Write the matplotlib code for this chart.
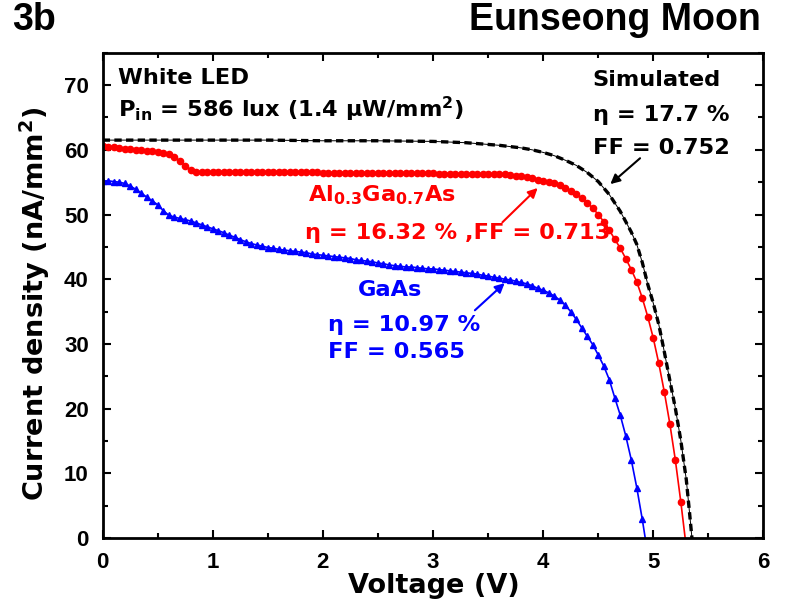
import numpy as np
import matplotlib
matplotlib.use('Agg')
import matplotlib.pyplot as plt
from matplotlib.ticker import MultipleLocator

plt.rcParams['font.family'] = ['DejaVu Sans']
plt.rcParams['font.weight'] = 'bold'
plt.rcParams['mathtext.fontset'] = 'dejavusans'
plt.rcParams['mathtext.default'] = 'bf'

# J-V data, current density in nA/mm^2, voltage step 0.05 V for measured cells
step = 0.05

j_algaas = [
    60.6, 60.5, 60.4, 60.3, 60.2, 60.1, 60.0, 59.9, 59.8, 59.8,
    59.7, 59.5, 59.3, 58.9, 58.3, 57.5, 56.9, 56.6, 56.5, 56.5,
    56.5, 56.5, 56.5, 56.5, 56.5, 56.5, 56.5, 56.5, 56.5, 56.5,
    56.5, 56.5, 56.5, 56.5, 56.5, 56.5, 56.5, 56.5, 56.5, 56.5,
    56.4, 56.4, 56.4, 56.4, 56.4, 56.4, 56.4, 56.4, 56.4, 56.4,
    56.4, 56.4, 56.4, 56.4, 56.4, 56.4, 56.4, 56.4, 56.4, 56.4,
    56.4, 56.3, 56.3, 56.3, 56.3, 56.3, 56.3, 56.3, 56.3, 56.3,
    56.3, 56.3, 56.3, 56.2, 56.1, 56.0, 55.9, 55.8, 55.6, 55.4,
    55.2, 55.0, 54.8, 54.5, 54.1, 53.7, 53.1, 52.5, 51.8, 51.0,
    50.0, 48.9, 47.6, 46.2, 44.8, 43.2, 41.5, 39.6, 37.1, 34.2,
    30.9, 27.0, 22.6, 17.7, 12.1, 5.6, -1.5,
]

j_gaas = [
    55.2, 55.2, 55.1, 55.0, 54.8, 54.4, 53.9, 53.3, 52.7, 52.1,
    51.5, 50.6, 49.9, 49.6, 49.4, 49.2, 49.0, 48.7, 48.4, 48.1,
    47.8, 47.5, 47.2, 46.8, 46.5, 46.1, 45.8, 45.5, 45.3, 45.1,
    44.9, 44.8, 44.6, 44.5, 44.4, 44.3, 44.2, 44.1, 43.9, 43.8,
    43.7, 43.6, 43.5, 43.4, 43.3, 43.2, 43.0, 42.9, 42.8, 42.7,
    42.5, 42.4, 42.2, 42.1, 42.0, 41.9, 41.9, 41.8, 41.7, 41.6,
    41.6, 41.5, 41.4, 41.3, 41.2, 41.1, 41.0, 40.9, 40.8, 40.6,
    40.5, 40.3, 40.2, 40.0, 39.9, 39.7, 39.5, 39.3, 39.0, 38.6,
    38.3, 37.9, 37.4, 36.8, 36.0, 35.0, 33.8, 32.5, 31.2, 29.9,
    28.3, 26.6, 24.5, 21.7, 19.0, 15.8, 12.1, 7.8, 2.9, -2.5,
]

v_sim = [0.0, 0.5, 1.0, 1.5, 2.0, 2.5, 3.0, 3.3, 3.6, 3.8, 3.9, 4.0, 4.1,
         4.2, 4.3, 4.4, 4.5, 4.6, 4.7, 4.8, 4.85, 4.9, 4.95, 5.0, 5.05,
         5.1, 5.15, 5.2, 5.25, 5.3, 5.33, 5.35, 5.37]
j_sim = [61.5, 61.5, 61.5, 61.5, 61.4, 61.4, 61.3, 61.1, 60.7, 60.3, 60.0,
         59.6, 59.1, 58.4, 57.6, 56.5, 55.1, 53.1, 50.5, 47.3, 45.4, 42.6,
         39.2, 36.3, 33.0, 28.8, 24.4, 20.1, 15.1, 9.0, 3.8, 0.2, -2.0]

v_algaas = np.arange(len(j_algaas)) * step
v_gaas = np.arange(len(j_gaas)) * step

fig = plt.figure(figsize=(7.87, 6.08), dpi=100)
ax = fig.add_axes([0.1305, 0.1151, 0.8395, 0.7981])

ax.plot(v_sim, j_sim, color='black', lw=0.7, zorder=3)
ax.plot(v_sim, j_sim, color='black', lw=2.4, ls=(0, (2.2, 1.3)), zorder=3)
ax.plot(v_algaas, j_algaas, color='red', lw=1.2, marker='o', ms=4.5,
        mec='red', mfc='red', zorder=2)
ax.plot(v_gaas, j_gaas, color='blue', lw=1.2, marker='^', ms=5,
        mec='blue', mfc='blue', zorder=2)

ax.set_xlim(0, 6)
ax.set_ylim(0, 75)
ax.xaxis.set_major_locator(MultipleLocator(1))
ax.xaxis.set_minor_locator(MultipleLocator(0.5))
ax.yaxis.set_major_locator(MultipleLocator(10))
ax.yaxis.set_minor_locator(MultipleLocator(5))
ax.tick_params(which='both', direction='in', top=True, right=True, width=1.5)
ax.tick_params(which='major', length=6)
ax.tick_params(which='minor', length=3.5)
ax.tick_params(axis='x', which='major', pad=10)
ax.tick_params(axis='y', which='major', pad=10)
for s in ax.spines.values():
    s.set_linewidth(2)
for lab in ax.get_xticklabels() + ax.get_yticklabels():
    lab.set_family(['Liberation Sans', 'DejaVu Sans'])
    lab.set_fontweight('bold')
    lab.set_fontsize(16)

ax.set_xlabel('Voltage (V)', fontsize=19.5, fontweight='bold')
ax.set_ylabel(r'Current density (nA/mm$^2$)', fontsize=19.5,
              fontweight='bold')
ax.xaxis.set_label_coords(0.5015, -0.072)
ax.yaxis.set_label_coords(-0.076, 0.482)

fs = 16.2
ax.text(0.14, 71.1, 'White LED', fontsize=fs, va='center')
ax.text(0.14, 66.2, r'P$_{in}$ = 586 lux (1.4 μW/mm$^2$)', fontsize=fs,
        va='center')
ax.text(4.45, 70.8, 'Simulated', fontsize=fs, va='center')
ax.text(4.45, 65.4, 'η = 17.7 %', fontsize=fs, va='center')
ax.text(4.45, 60.3, 'FF = 0.752', fontsize=fs, va='center')

ax.text(1.86, 53.0, r'Al$_{0.3}$Ga$_{0.7}$As', fontsize=fs, color='red',
        va='center')
ax.text(1.84, 47.1, 'η = 16.32 % ,FF = 0.713', fontsize=fs, color='red',
        va='center')
ax.text(2.32, 38.3, 'GaAs', fontsize=fs, color='blue', va='center')
ax.text(2.05, 32.9, 'η = 10.97 %', fontsize=fs, color='blue', va='center')
ax.text(2.05, 28.7, 'FF = 0.565', fontsize=fs, color='blue', va='center')

arrow = dict(arrowstyle='-|>', lw=1.5, mutation_scale=14, shrinkA=0, shrinkB=0)
ax.annotate('', xy=(4.61, 54.7), xytext=(4.88, 58.7),
            arrowprops=dict(arrow, color='black'))
ax.annotate('', xy=(3.95, 54.1), xytext=(3.63, 48.8),
            arrowprops=dict(arrow, color='red'))
ax.annotate('', xy=(3.65, 39.4), xytext=(3.38, 35.2),
            arrowprops=dict(arrow, color='blue'))

title_font = ['Liberation Sans', 'DejaVu Sans']
fig.text(0.015, 0.9507, '3b', fontsize=27, fontweight='bold', va='baseline',
         family=title_font)
fig.text(0.967, 0.9507, 'Eunseong Moon', fontsize=27, fontweight='bold',
         va='baseline', ha='right', family=title_font)

fig.savefig('out.png', dpi=100)
